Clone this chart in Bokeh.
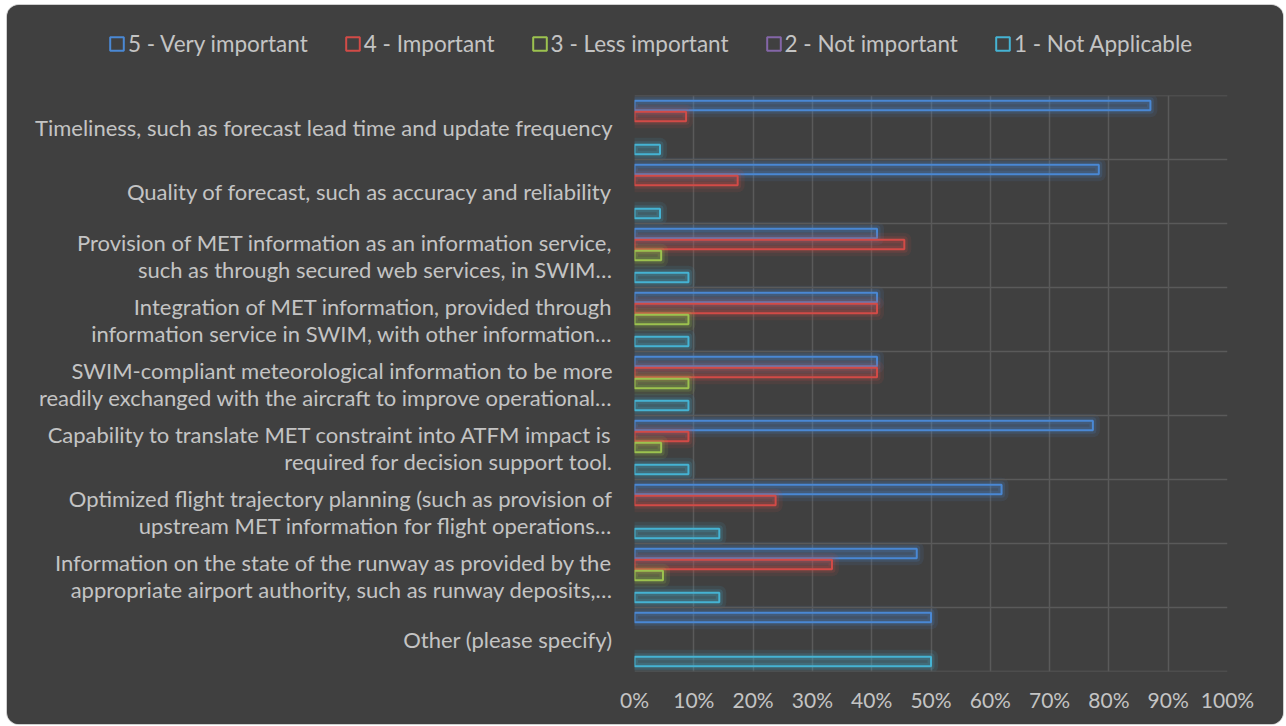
from bokeh.plotting import figure
from bokeh.layouts import column
from bokeh.models import (FactorRange, Range1d, Span, Legend, LegendItem,
                          ColumnDataSource, FixedTicker)
from bokeh.transform import dodge
from bokeh.embed import file_html
from bokeh.resources import INLINE

categories = [
    "Timeliness, such as forecast lead time and update frequency",
    "Quality of forecast, such as accuracy and reliability",
    "Provision of MET information as an information service,\nsuch as through secured web services, in SWIM…",
    "Integration of MET information, provided through\ninformation service in SWIM, with other information…",
    "SWIM-compliant meteorological information to be more\nreadily exchanged with the aircraft to improve operational…",
    "Capability to translate MET constraint into ATFM impact is\nrequired for decision support tool.",
    "Optimized flight trajectory planning (such as provision of\nupstream MET information for flight operations…",
    "Information on the state of the runway as provided by the\nappropriate airport authority, such as runway deposits,…",
    "Other (please specify)",
]

series_names = ["5 - Very important", "4 - Important", "3 - Less important",
                "2 - Not important", "1 - Not Applicable"]

very_important = [87.0, 78.3, 40.9, 40.9, 40.9, 77.3, 61.9, 47.6, 50.0]
important = [8.7, 17.4, 45.5, 40.9, 40.9, 9.1, 23.8, 33.3, 0.0]
less_important = [0.0, 0.0, 4.5, 9.1, 9.1, 4.5, 0.0, 4.8, 0.0]
not_important = [0.0, 0.0, 0.0, 0.0, 0.0, 0.0, 0.0, 0.0, 0.0]
not_applicable = [4.3, 4.3, 9.1, 9.1, 9.1, 9.1, 14.3, 14.3, 50.0]

x_ticks = [0, 10, 20, 30, 40, 50, 60, 70, 80, 90, 100]

series_values = [very_important, important, less_important, not_important, not_applicable]
colors = ["#4a88d4", "#d24b47", "#9cc24f", "#8466a8", "#45b3d3"]
offsets = [0.344, 0.172, 0.0, -0.172, -0.344]

FONT = "Lato"
TEXT = "#c4c4c4"
BG = "#404040"
GRID = "#5a5a5a"

# ---- main chart ----
p = figure(width=1276, height=629, output_backend="svg", toolbar_location=None,
           y_range=FactorRange(factors=list(reversed(categories)), range_padding=0),
           x_range=Range1d(0, 100),
           min_border_left=627, min_border_right=56, min_border_top=0, min_border_bottom=53)
p.frame_align = False
p.background_fill_color = BG
p.border_fill_color = BG
p.outline_line_color = None

p.xgrid.ticker = FixedTicker(ticks=x_ticks)
p.xgrid.grid_line_color = GRID
p.xgrid.grid_line_width = 1.5
p.ygrid.visible = False
for k in range(len(categories) + 1):
    p.add_layout(Span(location=k, dimension="width", line_color=GRID, line_width=1.5))

p.xaxis.ticker = FixedTicker(ticks=x_ticks)
p.xaxis.major_label_overrides = {t: f"{t}%" for t in x_ticks}
for ax in (p.xaxis, p.yaxis):
    ax.axis_line_color = None
    ax.major_tick_line_color = None
    ax.minor_tick_line_color = None
    ax.major_label_text_color = TEXT
    ax.major_label_text_font = FONT
p.xaxis.major_label_text_font_size = "21px"
p.yaxis.major_label_text_font_size = "22px"
p.xaxis.major_label_standoff = 9
p.yaxis.major_label_standoff = 16
p.yaxis.major_label_text_line_height = 1.0

for name, vals, col, off in zip(series_names, series_values, colors, offsets):
    cats = [c for c, v in zip(categories, vals) if v > 0]
    vs = [v for v in vals if v > 0]
    src = ColumnDataSource(dict(cat=cats, val=vs))
    yy = dodge("cat", off, range=p.y_range)
    p.hbar(y=yy, left=0, right="val", height=0.15, source=src,
           fill_color=col, fill_alpha=0.07, line_color=col, line_alpha=0.10,
           line_width=14, line_join="round")
    p.hbar(y=yy, left=0, right="val", height=0.15, source=src,
           fill_alpha=0, line_color=col, line_alpha=0.17,
           line_width=7, line_join="round")
    p.hbar(y=yy, left=0, right="val", height=0.15, source=src,
           fill_color=col, fill_alpha=0.12, line_color=col, line_width=2)

# ---- legend strip ----
lg = figure(width=1276, height=90, output_backend="svg", toolbar_location=None,
            x_range=Range1d(0, 1), y_range=Range1d(0, 1),
            x_axis_type=None, y_axis_type=None,
            min_border_left=0, min_border_right=0, min_border_top=0, min_border_bottom=0)
lg.frame_align = False
lg.background_fill_color = BG
lg.border_fill_color = BG
lg.outline_line_color = None
lg.grid.visible = False

items = []
for name, col in zip(series_names, colors):
    r = lg.hbar(y=[float("nan")], left=[0], right=[0], height=0.1,
                fill_alpha=0, line_color=col, line_width=2)
    items.append(LegendItem(label=name, renderers=[r]))

legend = Legend(items=items, orientation="horizontal", location=(101, 38),
                background_fill_alpha=0, border_line_alpha=0,
                label_text_color=TEXT, label_text_font=FONT, label_text_font_size="22.5px",
                glyph_width=17, glyph_height=17, label_standoff=3, spacing=36,
                padding=0, margin=0)
lg.add_layout(legend)

layout = column(lg, p, spacing=0)
layout.styles = {"margin-left": "7px", "margin-top": "5px", "border-radius": "12px",
                 "overflow": "hidden", "box-shadow": "0 0 0 1px #cfcfcf",
                 "background-color": BG}

open("out.html", "w").write(file_html(layout, INLINE))
